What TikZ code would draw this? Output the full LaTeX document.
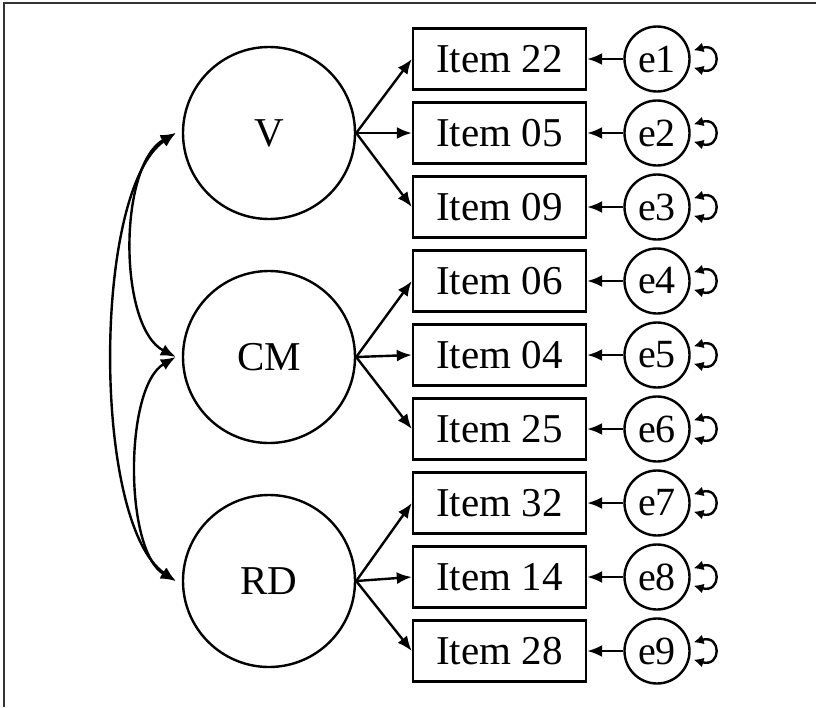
\documentclass[tikz,border=0pt]{standalone}
\usepackage{fontspec}
\setmainfont{Liberation Serif}
\usetikzlibrary{arrows.meta}
\tikzset{
    latent/.style = {circle, line width=2.4pt, draw=black, align=center, minimum size=172pt, inner sep=0pt, font=\fontsize{41}{49}\selectfont, text=black},
    item/.style = {rectangle, line width=2.4pt, draw=black, align=center, minimum width=173pt, minimum height=61pt, inner sep=0pt, font=\fontsize{41}{49}\selectfont, text=black},
    error/.style = {circle, line width=2.4pt, draw=black, align=center, minimum size=65pt, inner sep=0pt, font=\fontsize{40}{48}\selectfont, text=black},
    edgel/.style = {-{Latex[length=15pt,width=12pt]}, line width=2.4pt, black}, % loading
    edgee/.style = {-{Latex[length=15pt,width=12pt]}, line width=2.4pt, black}, % error
    edgec/.style = {{Latex[length=15pt,width=12pt]}-{Latex[length=15pt,width=12pt]}, line width=2.4pt, black}, % covariance
    edgev/.style = {{Latex[length=10pt,width=10pt]}-{Latex[length=10pt,width=10pt]}, line width=2.4pt, black}, % variance
    frame/.style = {line width=1.5pt, black!80}
}
\begin{document}
\begin{tikzpicture}[x=1pt,y=-1pt]
%
\path[use as bounding box] (0,0) rectangle (816,707);
\draw[frame] (4,707) -- (4,3) -- (816,3);
%
\node[latent] at (269,133) (V) {V};
\node[latent] at (269,357) (CM) {CM};
\node[latent] at (269,581) (RD) {RD};
%
\node[item] at (499.5,59) (i22) {Item 22};
\node[item] at (499.5,133) (i05) {Item 05};
\node[item] at (499.5,207) (i09) {Item 09};
\node[item] at (499.5,281) (i06) {Item 06};
\node[item] at (499.5,355) (i04) {Item 04};
\node[item] at (499.5,429) (i25) {Item 25};
\node[item] at (499.5,503) (i32) {Item 32};
\node[item] at (499.5,577) (i14) {Item 14};
\node[item] at (499.5,651) (i28) {Item 28};
%
\node[error] at (657,59) (e1) {e1};
\node[error] at (657,133) (e2) {e2};
\node[error] at (657,207) (e3) {e3};
\node[error] at (657,281) (e4) {e4};
\node[error] at (657,355) (e5) {e5};
\node[error] at (657,429) (e6) {e6};
\node[error] at (657,503) (e7) {e7};
\node[error] at (657,577) (e8) {e8};
\node[error] at (657,651) (e9) {e9};
%
\draw[edgel] (V.east) -- (i22.west);
\draw[edgel] (V.east) -- (i05.west);
\draw[edgel] (V.east) -- (i09.west);
\draw[edgel] (CM.east) -- (i06.west);
\draw[edgel] (CM.east) -- (i04.west);
\draw[edgel] (CM.east) -- (i25.west);
\draw[edgel] (RD.east) -- (i32.west);
\draw[edgel] (RD.east) -- (i14.west);
\draw[edgel] (RD.east) -- (i28.west);
%
\draw[edgee] (e1) -- (i22);
\draw[edgee] (e2) -- (i05);
\draw[edgee] (e3) -- (i09);
\draw[edgee] (e4) -- (i06);
\draw[edgee] (e5) -- (i04);
\draw[edgee] (e6) -- (i25);
\draw[edgee] (e7) -- (i32);
\draw[edgee] (e8) -- (i14);
\draw[edgee] (e9) -- (i28);
%
\draw[edgev] ([xshift=4pt]e1.15) .. controls +(28,-8) and +(28,8) .. ([xshift=4pt]e1.-15);
\draw[edgev] ([xshift=4pt]e2.15) .. controls +(28,-8) and +(28,8) .. ([xshift=4pt]e2.-15);
\draw[edgev] ([xshift=4pt]e3.15) .. controls +(28,-8) and +(28,8) .. ([xshift=4pt]e3.-15);
\draw[edgev] ([xshift=4pt]e4.15) .. controls +(28,-8) and +(28,8) .. ([xshift=4pt]e4.-15);
\draw[edgev] ([xshift=4pt]e5.15) .. controls +(28,-8) and +(28,8) .. ([xshift=4pt]e5.-15);
\draw[edgev] ([xshift=4pt]e6.15) .. controls +(28,-8) and +(28,8) .. ([xshift=4pt]e6.-15);
\draw[edgev] ([xshift=4pt]e7.15) .. controls +(28,-8) and +(28,8) .. ([xshift=4pt]e7.-15);
\draw[edgev] ([xshift=4pt]e8.15) .. controls +(28,-8) and +(28,8) .. ([xshift=4pt]e8.-15);
\draw[edgev] ([xshift=4pt]e9.15) .. controls +(28,-8) and +(28,8) .. ([xshift=4pt]e9.-15);
%
\draw[edgec] ([xshift=-6pt]V.west) .. controls (118,165) and (118,327) .. ([xshift=-6pt]CM.west);
\draw[edgec] ([xshift=-6pt]CM.west) .. controls (124,387) and (124,551) .. ([xshift=-6pt]RD.west);
\draw[edgec] ([xshift=-6pt]V.west) .. controls (92,190) and (92,524) .. ([xshift=-6pt]RD.west);

\end{tikzpicture}
\end{document}
